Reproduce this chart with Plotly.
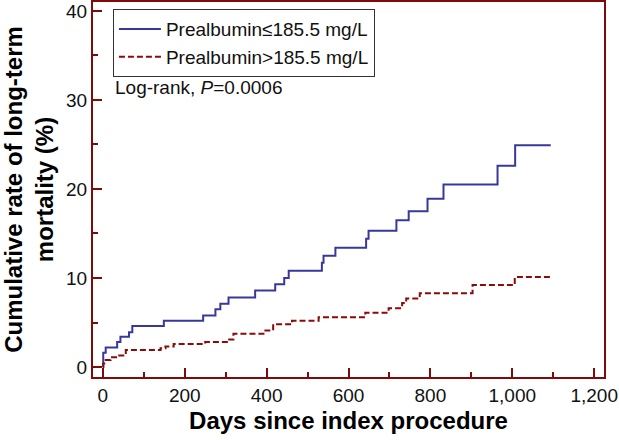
import plotly.graph_objects as go

# Data (days since index procedure, cumulative mortality %)
low_days = [0, 1, 7, 35, 43, 64, 72, 149, 245, 275, 287, 307, 372, 421, 443, 454,
            535, 539, 568, 643, 649, 717, 747, 793, 832, 964, 1007, 1094]
low_pct = [0, 1.6, 2.2, 2.8, 3.4, 3.9, 4.6, 5.2, 5.8, 6.5, 7.1, 7.8, 8.6, 9.3, 10.0, 10.8,
           11.7, 12.5, 13.4, 14.4, 15.3, 16.5, 17.5, 18.9, 20.5, 22.6, 24.9, 24.9]

high_days = [0, 1, 7, 19, 35, 56, 141, 153, 173, 250, 303, 319, 397, 416, 462, 527,
             641, 698, 731, 741, 774, 903, 1006, 1094]
high_pct = [0, 0.4, 0.8, 1.1, 1.3, 1.9, 2.1, 2.3, 2.6, 2.8, 3.1, 3.75, 4.1, 4.8, 5.2, 5.6,
            6.1, 6.6, 7.2, 7.7, 8.3, 9.2, 10.1, 10.1]

series_names = ["Prealbumin≤185.5 mg/L", "Prealbumin>185.5 mg/L"]
x_ticks = [0, 200, 400, 600, 800, 1000, 1200]
y_ticks = [0, 10, 20, 30, 40]

FRAME = "#7f0a0a"
BLUE = "#38389a"
RED = "#8b0a0a"
FONT = "Arial, Liberation Sans, sans-serif"

fig = go.Figure()
fig.add_trace(go.Scatter(x=low_days, y=low_pct, mode="lines", name=series_names[0],
                         line=dict(color=BLUE, width=2, shape="hv"), legendgroup="a"))
fig.add_trace(go.Scatter(x=high_days, y=high_pct, mode="lines", name=series_names[1],
                         line=dict(color=RED, width=2, shape="hv", dash="6px,3px"),
                         legendgroup="b"))

fig.add_annotation(x=0.039, y=0.773, xref="paper", yref="paper", xanchor="left",
                   yanchor="middle", showarrow=False,
                   text="Log-rank, <i>P</i>=0.0006",
                   font=dict(family=FONT, size=19, color="#111"))

fig.update_layout(
    width=619, height=440,
    margin=dict(l=93, r=15, t=2, b=63, autoexpand=False),
    plot_bgcolor="white", paper_bgcolor="white",
    font=dict(family=FONT, size=19, color="#111"),
    legend=dict(x=0.039, y=0.981, xanchor="left", yanchor="top",
                bordercolor="#333", borderwidth=1, bgcolor="white",
                font=dict(family=FONT, size=19, color="#111"),
                traceorder="grouped", tracegroupgap=0, itemwidth=42),
    xaxis=dict(range=[-24, 1224], tickvals=x_ticks, tickformat=",", automargin=False,
               showgrid=False, zeroline=False,
               showline=True, linecolor=FRAME, linewidth=2, mirror=True,
               ticks="inside", ticklen=9, tickwidth=2, tickcolor=FRAME,
               minor=dict(ticks="inside", ticklen=5, tickwidth=2, tickcolor=FRAME, dtick=100, tick0=0),
               tickfont=dict(family=FONT, size=19, color="#111"),
               title=dict(text="Days since index procedure",
                          font=dict(family=FONT, size=24, color="#000", weight="bold"),
                          standoff=7)),
    yaxis=dict(range=[-1.12, 41.0], tickvals=y_ticks, automargin=False,
               showgrid=False, zeroline=False,
               showline=True, linecolor=FRAME, linewidth=2, mirror=True,
               ticks="inside", ticklen=9, tickwidth=2, tickcolor=FRAME,
               minor=dict(ticks="inside", ticklen=5, tickwidth=2, tickcolor=FRAME, dtick=5, tick0=0),
               tickfont=dict(family=FONT, size=19, color="#111"),
               title=dict(text="Cumulative rate of long-term<br>mortality (%)",
                          font=dict(family=FONT, size=24, color="#000", weight="bold"),
                          standoff=10)),
)

fig.write_html("out.html", config={"displayModeBar": False},
               post_script="document.body.style.margin='0';document.body.style.padding='0';")
